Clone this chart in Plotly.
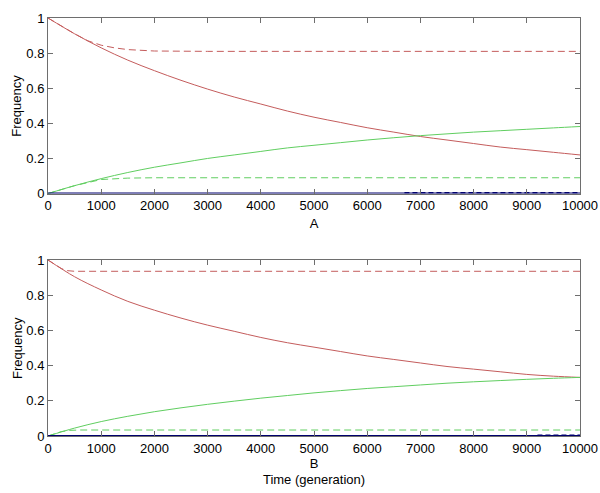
import plotly.graph_objects as go
from plotly.subplots import make_subplots

# generation axis (shared by both panels)
t = [0, 500, 1000, 1500, 2000, 2500, 3000, 3500, 4000, 4500, 5000,
     5500, 6000, 6500, 7000, 7500, 8000, 8500, 9000, 9500, 10000]

# panel A
a_red = [1.0, 0.91, 0.83, 0.76, 0.70, 0.645, 0.595, 0.55, 0.51, 0.47, 0.435,
         0.405, 0.375, 0.35, 0.325, 0.305, 0.285, 0.265, 0.25, 0.235, 0.22]
a_green = [0.0, 0.045, 0.085, 0.12, 0.15, 0.175, 0.2, 0.22, 0.24, 0.26, 0.275,
           0.29, 0.305, 0.318, 0.33, 0.34, 0.35, 0.358, 0.366, 0.374, 0.382]
a_red_d_t = [0, 250, 500, 750, 1000, 1250, 1500, 2000, 3000, 10000]
a_red_d = [1.0, 0.955, 0.91, 0.87, 0.845, 0.83, 0.82, 0.812, 0.81, 0.81]
a_green_d_t = [0, 500, 1000, 1500, 2000, 10000]
a_green_d = [0.0, 0.045, 0.08, 0.088, 0.09, 0.09]
a_blue_d_t = [6700, 10000]
a_blue_d = [0.004, 0.004]

# panel B
b_red = [1.0, 0.905, 0.83, 0.765, 0.715, 0.67, 0.63, 0.595, 0.56, 0.53, 0.505,
         0.48, 0.455, 0.435, 0.415, 0.395, 0.38, 0.365, 0.35, 0.34, 0.333]
b_green = [0.0, 0.045, 0.082, 0.112, 0.138, 0.16, 0.18, 0.198, 0.215, 0.23, 0.245,
           0.258, 0.27, 0.28, 0.29, 0.3, 0.308, 0.315, 0.322, 0.328, 0.333]
b_red_d_t = [0, 150, 250, 350, 500, 10000]
b_red_d = [1.0, 0.97, 0.952, 0.94, 0.936, 0.936]
b_green_d_t = [0, 150, 250, 400, 600, 10000]
b_green_d = [0.0, 0.016, 0.025, 0.032, 0.034, 0.034]
b_blue_d_t = [9200, 10000]
b_blue_d = [0.004, 0.004]

blue_t = [0, 10000]
blue = [0, 0]

x_ticks = list(range(0, 10001, 1000))
x_labels = [str(v) for v in x_ticks]
y_ticks = [0, 0.2, 0.4, 0.6, 0.8, 1]
y_labels = ["0", "0.2", "0.4", "0.6", "0.8", "1"]

RED = "rgb(196,92,92)"
GREEN = "rgb(96,206,96)"
NAVY = "rgb(0,0,110)"

fig = make_subplots(rows=2, cols=1)

panels = [
    (1, a_red, a_green, a_red_d_t, a_red_d, a_green_d_t, a_green_d, a_blue_d_t, a_blue_d),
    (2, b_red, b_green, b_red_d_t, b_red_d, b_green_d_t, b_green_d, b_blue_d_t, b_blue_d),
]
for row, red, green, rdt, rd, gdt, gd, bdt, bd in panels:
    fig.add_trace(go.Scatter(x=rdt, y=rd, mode="lines", line=dict(color=RED, width=1, dash="7px,4px")), row=row, col=1)
    fig.add_trace(go.Scatter(x=gdt, y=gd, mode="lines", line=dict(color=GREEN, width=1, dash="7px,4px")), row=row, col=1)
    fig.add_trace(go.Scatter(x=t, y=red, mode="lines", line=dict(color=RED, width=1, shape="spline")), row=row, col=1)
    fig.add_trace(go.Scatter(x=t, y=green, mode="lines", line=dict(color=GREEN, width=1, shape="spline")), row=row, col=1)
    fig.add_trace(go.Scatter(x=blue_t, y=blue, mode="lines", line=dict(color=NAVY, width=2)), row=row, col=1)
    fig.add_trace(go.Scatter(x=bdt, y=bd, mode="lines", line=dict(color=NAVY, width=1.5, dash="5px,3px")), row=row, col=1)

axis_style = dict(showgrid=False, zeroline=False, showline=True, linecolor="rgb(110,110,110)",
                  linewidth=1, mirror="ticks", ticks="inside", ticklen=5, tickcolor="rgb(110,110,110)",
                  tickfont=dict(size=13, color="black"), automargin=False)

fig.update_xaxes(range=[0, 10000], tickvals=x_ticks, ticktext=x_labels, **axis_style)
fig.update_yaxes(range=[0, 1], tickvals=y_ticks, ticktext=y_labels, **axis_style)

fig.update_xaxes(title=dict(text="A", font=dict(size=13, color="black"), standoff=6), row=1, col=1)
fig.update_xaxes(title=dict(text="B<br>Time (generation)", font=dict(size=13, color="black"), standoff=2), row=2, col=1)

# y titles as annotations so they can sit a little closer to the tick labels
for ymid in [0.79, 0.2105]:
    fig.add_annotation(text="Frequency", xref="paper", yref="paper", x=0, y=ymid,
                       xanchor="center", yanchor="middle", xshift=-31,
                       textangle=-90, showarrow=False,
                       font=dict(size=13, color="black"))

fig.update_layout(
    width=600, height=493,
    margin=dict(l=48, r=20, t=18, b=57),
    plot_bgcolor="white", paper_bgcolor="white",
    showlegend=False,
    font=dict(family="Liberation Sans, Arial, sans-serif"),
    yaxis=dict(domain=[0.58, 1]),
    yaxis2=dict(domain=[0, 0.421]),
)

# drop the page's default body margin so the figure sits at the window corner
fig.write_html("out.html", config={"displayModeBar": False},
               post_script="document.body.style.margin='0';")
